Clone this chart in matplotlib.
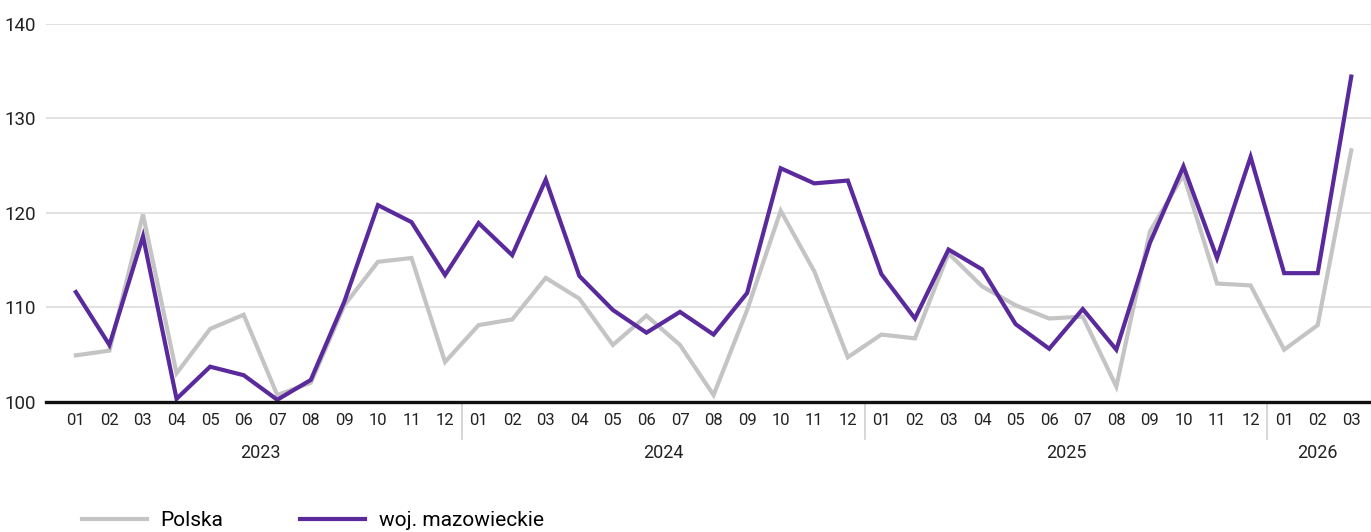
import matplotlib
matplotlib.use("Agg")
import matplotlib.pyplot as plt
import matplotlib.transforms as mtransforms

plt.rcParams['font.family'] = ['Roboto', 'DejaVu Sans']

# months 2023-01 .. 2026-03
month_labels = ['01', '02', '03', '04', '05', '06', '07', '08', '09', '10', '11', '12'] * 3 + ['01', '02', '03']
years = ['2023', '2024', '2025', '2026']
year_lengths = [12, 12, 12, 3]

polska = [104.9, 105.4, 119.8, 103.0, 107.7, 109.2, 100.7, 102.0, 110.2, 114.8, 115.2, 104.2,
          108.1, 108.7, 113.1, 110.9, 106.0, 109.1, 106.0, 100.7, 109.7, 120.2, 113.8, 104.7,
          107.1, 106.7, 115.7, 112.2, 110.2, 108.8, 109.0, 101.6, 118.0, 124.0, 112.5, 112.3,
          105.5, 108.1, 126.6]
mazowieckie = [111.6, 106.0, 117.5, 100.3, 103.7, 102.8, 100.2, 102.3, 110.6, 120.8, 119.0, 113.4,
               118.9, 115.5, 123.5, 113.3, 109.7, 107.3, 109.5, 107.1, 111.5, 124.7, 123.1, 123.4,
               113.5, 108.8, 116.1, 114.0, 108.2, 105.6, 109.8, 105.5, 116.8, 124.9, 115.2, 125.9,
               113.6, 113.6, 134.4]

x = list(range(len(month_labels)))

fig = plt.figure(figsize=(13.71, 5.32), dpi=100)
ax = fig.add_axes([0.0333, 0.245, 0.967, 0.7105])

ax.plot(x, polska, color='#c4c4c4', lw=3, label='Polska', solid_joinstyle='miter', zorder=3)
ax.plot(x, mazowieckie, color='#5a2a9c', lw=3, label='woj. mazowieckie', solid_joinstyle='miter', zorder=4)

ax.set_ylim(100, 140)
ax.set_xlim(-0.9, 38.6)
ax.set_yticks([100, 110, 120, 130, 140])
ax.grid(axis='y', color='#dedede', lw=1.3)
ax.set_axisbelow(True)
for s in ['top', 'right', 'left']:
    ax.spines[s].set_visible(False)
ax.spines['bottom'].set_linewidth(2.4)
ax.spines['bottom'].set_color('#111111')
ax.spines['bottom'].set_zorder(5)

ax.set_xticks(x)
ax.set_xticklabels(month_labels)
ax.tick_params(axis='x', length=0, pad=8, labelsize=12, colors='#222222')
ax.tick_params(axis='y', length=0, pad=7, labelsize=13.5, colors='#222222')

# year labels and separators
trans = mtransforms.blended_transform_factory(ax.transData, ax.transAxes)
start = 0
for yr, n in zip(years, year_lengths):
    mid = start + (n - 1) / 2
    ax.text(mid, -0.135, yr, transform=trans, ha='center', va='center', fontsize=13, color='#222222')
    if start > 0:
        ax.plot([start - 0.5, start - 0.5], [0, -0.098], transform=trans, color='#d0d0d0', lw=1.2, clip_on=False)
    start += n

fig.legend(loc='center left', bbox_to_anchor=(0.0525, 0.021), ncol=2, frameon=False, borderpad=0,
           fontsize=15, handlelength=3.1, handletextpad=0.65, columnspacing=3.7)

fig.savefig('out.png', dpi=100)
